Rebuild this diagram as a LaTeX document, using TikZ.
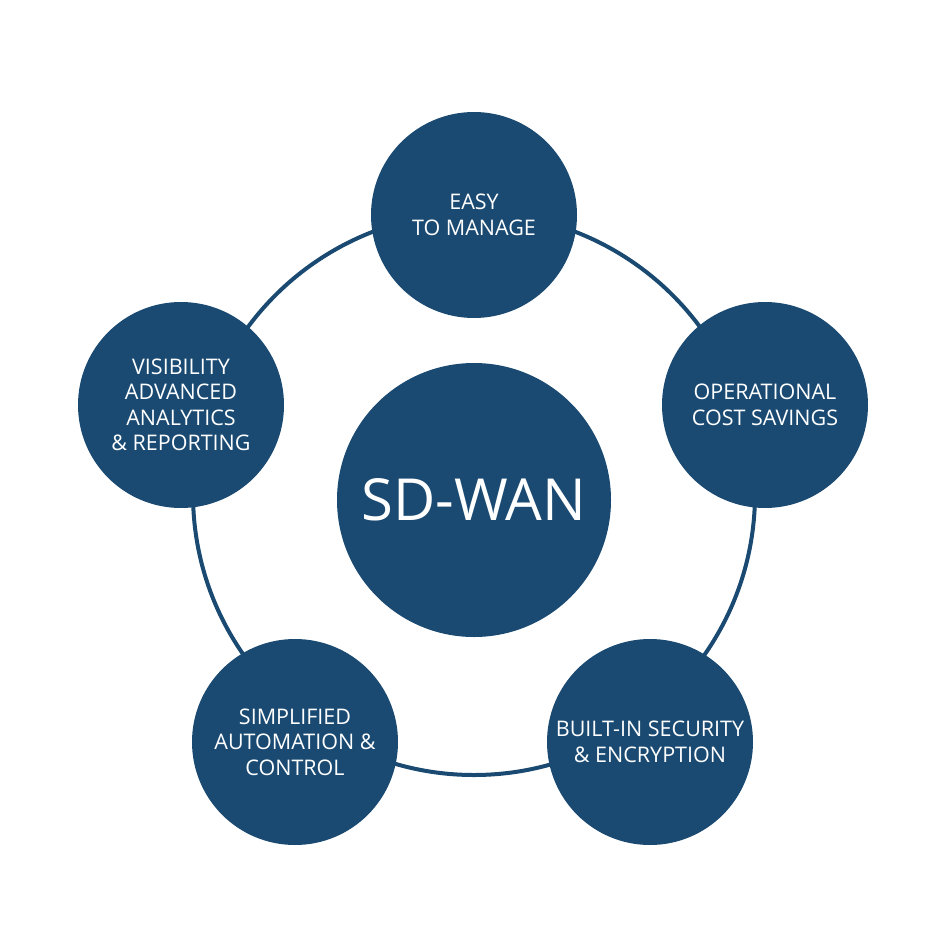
\documentclass[tikz,border=0pt]{standalone}
\usepackage{fontspec}
\setmainfont{Open Sans}
\definecolor{navy}{HTML}{1A4A72}
\begin{document}
\begin{tikzpicture}[x=1pt,y=-1pt,
  sat/.style={circle,fill=navy,minimum size=206pt,inner sep=0pt,text=white,align=center,font=\fontsize{21.5}{25.5}\selectfont},
  hub/.style={circle,fill=navy,minimum size=274pt,inner sep=0pt,text=white,font=\fontsize{58}{64}\selectfont}]
\useasboundingbox[fill=white] (0,0) rectangle (950,950);
\coordinate (c) at (474,494);
\draw[navy,line width=4pt] (c) circle (281);
\node[hub] (hub) at (474,500) {SD-WAN};
\node[sat] (a) at (474,215) {EASY\\TO MANAGE};
\node[sat] (b) at (765,405) {OPERATIONAL\\COST SAVINGS};
\node[sat] (d) at (650,742) {BUILT-IN SECURITY\\\& ENCRYPTION};
\node[sat] (e) at (295,742) {SIMPLIFIED\\AUTOMATION \&\\CONTROL};
\node[sat] (f) at (181,405) {VISIBILITY\\ADVANCED\\ANALYTICS\\\& REPORTING};
\end{tikzpicture}
\end{document}
